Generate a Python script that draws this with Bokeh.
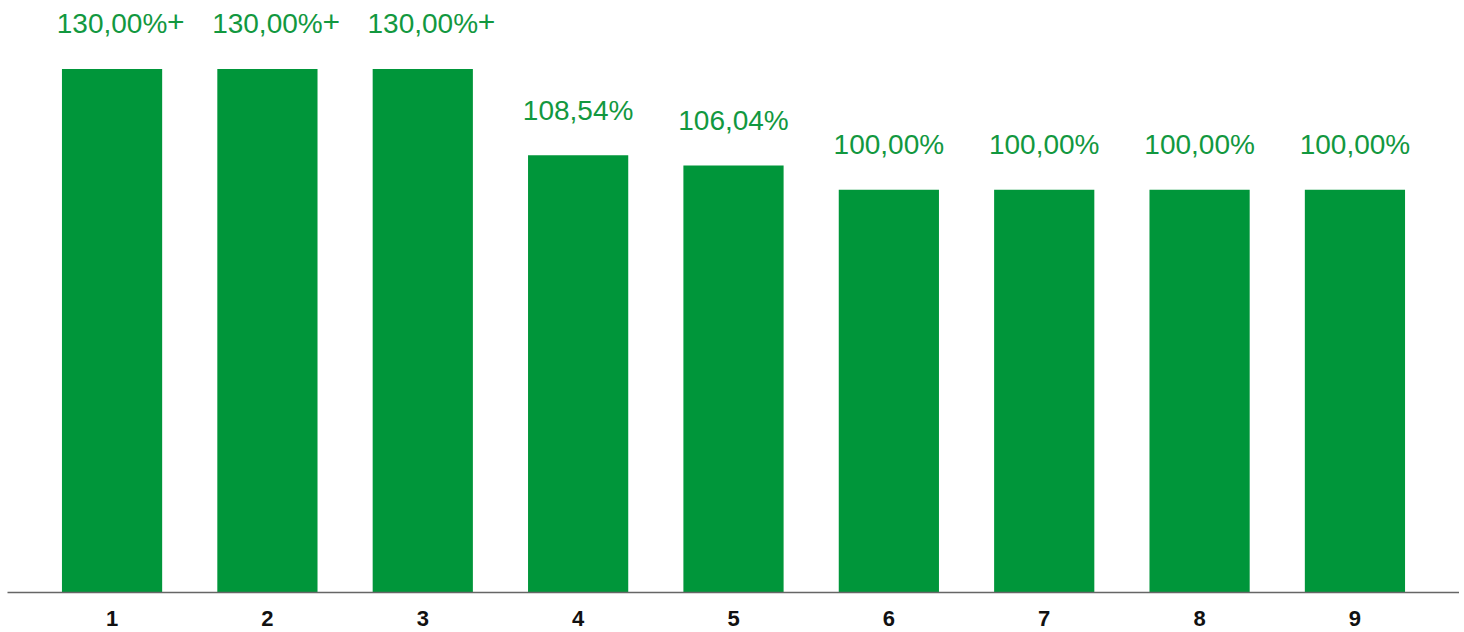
from bokeh.plotting import figure
from bokeh.models import ColumnDataSource, FactorRange, Range1d
from bokeh.core.properties import value
from bokeh.embed import file_html
from bokeh.resources import INLINE

categories = ["1", "2", "3", "4", "5", "6", "7", "8", "9"]
values = [130.0, 130.0, 130.0, 108.54, 106.04, 100.0, 100.0, 100.0, 100.0]
labels = ["130,00%", "130,00%", "130,00%", "108,54%", "106,04%",
          "100,00%", "100,00%", "100,00%", "100,00%"]
suffixes = ["+", "+", "+", "", "", "", "", "", ""]

src = ColumnDataSource(dict(cat=categories, val=values, lab=labels, suf=suffixes))

p = figure(width=1459, height=632, output_backend="svg", toolbar_location=None,
           x_range=FactorRange(factors=categories, range_padding=0.173,
                               range_padding_units="absolute"),
           y_range=Range1d(0, 145))
p.min_border_left = 7
p.min_border_right = 0
p.min_border_top = 8
p.min_border_bottom = 40
p.outline_line_color = None
p.background_fill_color = "white"
p.border_fill_color = "white"
p.grid.visible = False
p.yaxis.visible = False

p.vbar(x="cat", top="val", width=0.645, source=src, color="#00963a", line_color=None)
p.text(x="cat", y="val", text="lab", source=src, text_align="center",
       text_baseline="alphabetic", y_offset=-45, text_color="#12983f",
       text_font=value("Liberation Sans"), text_font_size="28px")
p.text(x="cat", y="val", text="suf", source=src, text_align="left",
       text_baseline="alphabetic", x_offset=55, y_offset=-47, text_color="#12983f",
       text_font=value("Liberation Sans"), text_font_size="30px")

ax = p.xaxis[0]
ax.axis_line_color = "#666666"
ax.axis_line_width = 1.5
ax.major_tick_line_color = None
ax.minor_tick_line_color = None
ax.major_tick_out = 0
ax.major_tick_in = 0
ax.major_label_standoff = 18
ax.major_label_text_font = "Liberation Sans"
ax.major_label_text_font_style = "bold"
ax.major_label_text_font_size = "22px"
ax.major_label_text_color = "#111111"

open("out.html", "w").write(file_html(p, INLINE))
